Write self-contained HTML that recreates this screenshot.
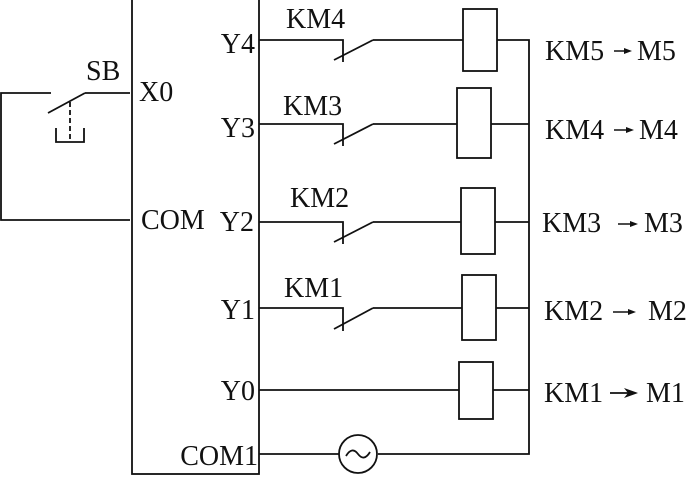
<!DOCTYPE html>
<html><head><meta charset="utf-8"><style>
html,body{margin:0;padding:0;background:#fff;}
svg{display:block}
text{font-family:"Liberation Serif",serif;font-size:28px;fill:#111}
</style></head><body>
<svg width="691" height="493" viewBox="0 0 691 493" xmlns="http://www.w3.org/2000/svg">
<g stroke="#111" stroke-width="1.8" fill="none">
<rect x="132" y="-2" width="127" height="476"/>
<polyline points="130,93 85,93"/>
<line x1="85" y1="93" x2="48" y2="113"/>
<polyline points="51,93 1,93 1,220 130,220"/>
<line x1="70" y1="102" x2="70" y2="142" stroke-dasharray="5,3"/>
<polyline points="56,128 56,142 84,142 84,128"/>
<polyline points="497,40 529,40 529,454 378,454"/>
<circle cx="358" cy="454" r="19"/>
<path d="M346,456 q6,-10 12,-2 q6,8 12,-2"/>
<line x1="259" y1="454" x2="339" y2="454"/>
<polyline points="259,40 343,40 343,62"/><line x1="334" y1="60" x2="373" y2="40"/><line x1="373" y1="40" x2="463" y2="40"/>
<rect x="463" y="9" width="34" height="62"/>
<polyline points="259,124 343,124 343,146"/><line x1="334" y1="144" x2="373" y2="124"/><line x1="373" y1="124" x2="457" y2="124"/>
<rect x="457" y="88" width="34" height="70"/><line x1="491" y1="124" x2="529" y2="124"/>
<polyline points="259,222 343,222 343,244"/><line x1="334" y1="242" x2="373" y2="222"/><line x1="373" y1="222" x2="461" y2="222"/>
<rect x="461" y="188" width="34" height="66"/><line x1="495" y1="222" x2="529" y2="222"/>
<polyline points="259,308 343,308 343,331"/><line x1="334" y1="329" x2="373" y2="308"/><line x1="373" y1="308" x2="462" y2="308"/>
<rect x="462" y="275" width="34" height="65"/><line x1="496" y1="308" x2="529" y2="308"/>
<line x1="259" y1="390" x2="459" y2="390"/>
<rect x="459" y="362" width="34" height="57"/><line x1="493" y1="390" x2="529" y2="390"/>
<line x1="614" y1="51" x2="626" y2="51" stroke-width="1.5"/>
<line x1="614" y1="130" x2="628" y2="130" stroke-width="1.5"/>
<line x1="618" y1="224" x2="632" y2="224" stroke-width="1.5"/>
<line x1="613" y1="312" x2="630" y2="312" stroke-width="1.5"/>
<line x1="610" y1="393" x2="628" y2="393" stroke-width="1.8"/>
</g>
<g fill="#111">
<polygon points="632,51 624,48 624,54"/>
<polygon points="634,130 626,127 626,133"/>
<polygon points="638,224 630,221 630,227"/>
<polygon points="636,312 628,309 628,315"/>
<polygon points="638,393 624,388 628,393 624,398"/>
</g>
<text x="86" y="80">SB</text>
<text x="139" y="101">X0</text>
<text x="141" y="229">COM</text>
<text x="255" y="53" text-anchor="end">Y4</text>
<text x="255" y="137" text-anchor="end">Y3</text>
<text x="254" y="231" text-anchor="end">Y2</text>
<text x="255" y="319" text-anchor="end">Y1</text>
<text x="255" y="400" text-anchor="end">Y0</text>
<text x="258" y="465" text-anchor="end">COM1</text>
<text x="286" y="28">KM4</text>
<text x="283" y="115">KM3</text>
<text x="290" y="207">KM2</text>
<text x="284" y="297">KM1</text>
<text x="545" y="60">KM5</text><text x="637" y="60">M5</text>
<text x="545" y="139">KM4</text><text x="639" y="139">M4</text>
<text x="542" y="232">KM3</text><text x="644" y="232">M3</text>
<text x="544" y="320">KM2</text><text x="648" y="320">M2</text>
<text x="544" y="402">KM1</text><text x="646" y="402">M1</text>
</svg>
</body></html>
